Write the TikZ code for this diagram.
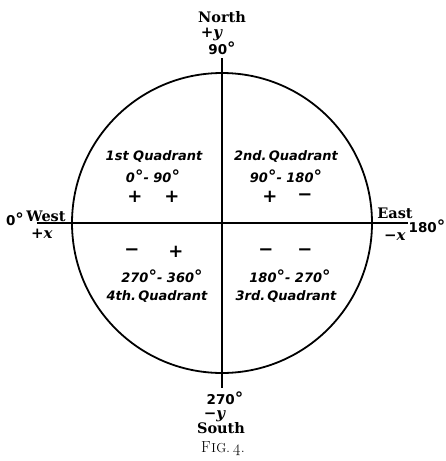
\documentclass[tikz,border=0pt]{standalone}
\usepackage{fontspec}
\setmainfont{DejaVu Serif}
\newfontfamily\quadfont{DejaVu Sans}
\newfontfamily\numfont{DejaVu Sans}
\newfontfamily\lmfont{Latin Modern Roman}
\newcommand{\dg}{{\fontsize{17}{17}\selectfont °}}
\begin{document}
\begin{tikzpicture}[x=1pt,y=-1pt,
  quadtxt/.style={font=\quadfont\bfseries\itshape\fontsize{13}{15}\selectfont, inner sep=0pt, anchor=base},
  signtxt/.style={font=\quadfont\bfseries\fontsize{18}{20}\selectfont, inner sep=0pt},
  compass/.style={font=\bfseries\fontsize{14.5}{16}\selectfont, inner sep=0pt, anchor=base},
  axislbl/.style={font=\bfseries\fontsize{15}{17}\selectfont, inner sep=0pt, anchor=base},
  degtxt/.style={font=\numfont\bfseries\fontsize{13.5}{15}\selectfont, inner sep=0pt, anchor=base},
  figtxt/.style={font=\lmfont\fontsize{16}{18}\selectfont, inner sep=0pt, anchor=base}]
\useasboundingbox (0,0) rectangle (445,461);
% circle and axes
\node[circle, draw, line width=1.8pt, minimum size=300pt, inner sep=0pt] (C) at (222,223) {};
\coordinate (top) at (222,58);
\coordinate (bot) at (222,388);
\coordinate (lft) at (37,223);
\coordinate (rgt) at (408,223);
\draw[line width=1.8pt] (top) -- (bot);
\draw[line width=1.4pt] (lft) -- (rgt);
% top labels
\node[compass] (north) at (222,22) {North};
\node[axislbl] (py) at (212,37) {+\textit{y}};
\node[degtxt] (n90) at (222,54) {90\dg};
% bottom labels
\node[degtxt] (s270) at (225,404) {270\dg};
\node[axislbl] (my) at (215,418) {−\textit{y}};
\node[compass] (south) at (221,433) {South};
\node[figtxt] (fig) at (223,452) {F\kern0.5pt{\fontsize{13}{13}\selectfont I\kern0.5pt G.}\kern3pt\oldstylenums{4}.};
% left labels
\node[compass] (west) at (46,221) {West};
\node[degtxt] (w0) at (15,225) {0\dg};
\node[axislbl] (px) at (42,238) {+\textit{x}};
% right labels
\node[compass] (east) at (395,218) {East};
\node[axislbl] (mx) at (395,240) {−\textit{x}};
\node[degtxt] (e180) at (427,232) {180\dg};
% quadrants
\node[quadtxt] (q1) at (154,160) {1st Quadrant};
\node[quadtxt] (q1r) at (153,182) {0\dg- 90\dg};
\node[signtxt] (q1a) at (135,197) {+};
\node[signtxt] (q1b) at (172,197) {+};
\node[quadtxt] (q2) at (286,160) {2nd.\,Quadrant};
\node[quadtxt] (q2r) at (286,182) {90\dg - 180\dg};
\node[signtxt] (q2a) at (270,197) {+};
\node[signtxt] (q2b) at (305,197) {−};
\node[signtxt] (q4a) at (132,252) {−};
\node[signtxt] (q4b) at (176,252) {+};
\node[quadtxt] (q4r) at (162,282) {270\dg- 360\dg};
\node[quadtxt] (q4) at (157,300) {4th.\,Quadrant};
\node[signtxt] (q3a) at (266,252) {−};
\node[signtxt] (q3b) at (305,252) {−};
\node[quadtxt] (q3r) at (290,282) {180\dg - 270\dg};
\node[quadtxt] (q3) at (286,300) {3rd.\,Quadrant};
\end{tikzpicture}
\end{document}
